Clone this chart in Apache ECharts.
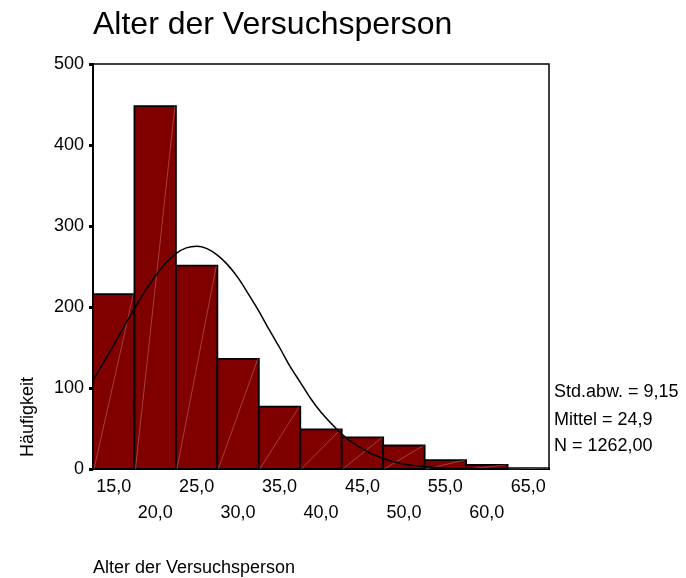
<!DOCTYPE html>
<html>
<head>
<meta charset="utf-8">
<script src="https://cdn.jsdelivr.net/npm/echarts@6/dist/echarts.min.js"></script>
<style>
html,body{margin:0;padding:0;background:#fff;}
#chart{width:686px;height:578px;}
</style>
</head>
<body>
<div id="chart"></div>
<script>
// Histogram bins (centers) and counts
const binLabels = ['15,0','20,0','25,0','30,0','35,0','40,0','45,0','50,0','55,0','60,0','65,0'];
const counts = [216, 448, 251, 136, 77, 49, 39, 29, 11, 5, 1];
// Normal curve
const curveX = [12.5, 13.75, 15, 16.25, 17.5, 18.75, 20, 21.25, 22.5, 23.75, 25, 26.25, 27.5, 28.75, 30, 31.25, 32.5, 33.75, 35, 36.25, 37.5, 38.75, 40, 41.25, 42.5, 43.75, 45, 46.25, 47.5, 48.75, 50, 52.5, 55, 57.5, 60];
const curveY = [109, 131, 153, 176, 198, 219, 238, 254, 266, 273, 275, 272, 264, 252, 236, 216, 195, 172, 150, 127, 107, 87, 70, 56, 43, 33, 25, 18, 13, 9, 6, 3, 1, 0.5, 0];
const yTicks = [0, 100, 200, 300, 400, 500];
const statLines = ['Std.abw. = 9,15', 'Mittel = 24,9', 'N = 1262,00'];
const titleText = 'Alter der Versuchsperson';
const yName = 'Häufigkeit';
const xName = 'Alter der Versuchsperson';

const FONT = '"Liberation Sans", Arial, sans-serif';
const chart = echarts.init(document.getElementById('chart'), null, {renderer: 'canvas'});

const option = {
  animation: false,
  backgroundColor: '#fff',
  title: {
    text: titleText, left: 88, top: 4,
    textStyle: {fontFamily: FONT, fontSize: 32, fontWeight: 'normal', color: '#000'}
  },
  grid: {left: 93, top: 64, right: 137, bottom: 109, show: true, borderColor: '#000', borderWidth: 1.5, backgroundColor: 'transparent'},
  xAxis: [{
    type: 'category', data: binLabels, boundaryGap: true,
    axisLine: {lineStyle: {color: '#000', width: 2}},
    axisTick: {alignWithLabel: true, length: 3, lineStyle: {color: '#666', width: 3}},
    axisLabel: {
      interval: 0, hideOverlap: false, margin: 5, color: '#000', fontFamily: FONT, fontSize: 18, lineHeight: 26,
      formatter: (v, i) => (i % 2 === 0 ? v : '\n' + v)
    },
    splitLine: {show: false}
  }, {
    type: 'value', min: 12.5, max: 67.5, show: false
  }],
  yAxis: {
    type: 'value', min: yTicks[0], max: yTicks[yTicks.length - 1], interval: 100,
    axisLine: {show: true, lineStyle: {color: '#000', width: 2}},
    axisTick: {show: true, length: 4, lineStyle: {color: '#000', width: 3}},
    axisLabel: {color: '#000', fontFamily: FONT, fontSize: 18, margin: 9},
    splitLine: {show: false}
  },
  graphic: [
    {type: 'text', x: 28, y: 417, rotation: Math.PI / 2, style: {text: yName, font: '18px ' + FONT, fill: '#000', textAlign: 'center', textVerticalAlign: 'middle'}},
    {type: 'text', x: 93, y: 568, style: {text: xName, font: '18px ' + FONT, fill: '#000', textAlign: 'left', textVerticalAlign: 'middle'}},
    {type: 'text', x: 554, y: 392, style: {text: statLines[0], font: '18px ' + FONT, fill: '#000', textVerticalAlign: 'middle'}},
    {type: 'text', x: 554, y: 420, style: {text: statLines[1], font: '18px ' + FONT, fill: '#000', textVerticalAlign: 'middle'}},
    {type: 'text', x: 554, y: 446, style: {text: statLines[2], font: '18px ' + FONT, fill: '#000', textVerticalAlign: 'middle'}}
  ],
  series: [{
    type: 'custom', xAxisIndex: 0, yAxisIndex: 0, z: 2,
    data: counts.map((v, i) => [i, v]),
    renderItem: function (params, api) {
      const i = api.value(0), v = api.value(1);
      const top = api.coord([i, v]);
      const base = api.coord([i, 0]);
      const w = api.size([1, 0])[0];
      const x0 = base[0] - w / 2, x1 = base[0] + w / 2;
      return {
        type: 'group', children: [
          {type: 'rect', shape: {x: x0, y: top[1], width: w, height: base[1] - top[1]}, style: {fill: '#800000', stroke: '#000', lineWidth: 1.8}},
          {type: 'line', shape: {x1: x0 + 1, y1: base[1], x2: x1 - 1, y2: top[1]}, style: {stroke: 'rgba(255,255,255,0.25)', lineWidth: 1}}
        ]
      };
    }
  }, {
    type: 'line', xAxisIndex: 1, yAxisIndex: 0, z: 3, smooth: 0.3, showSymbol: false, symbol: 'none',
    data: curveX.map((x, i) => [x, curveY[i]]),
    lineStyle: {color: '#000', width: 1.5}
  }]
};
chart.setOption(option);
</script>
</body>
</html>
